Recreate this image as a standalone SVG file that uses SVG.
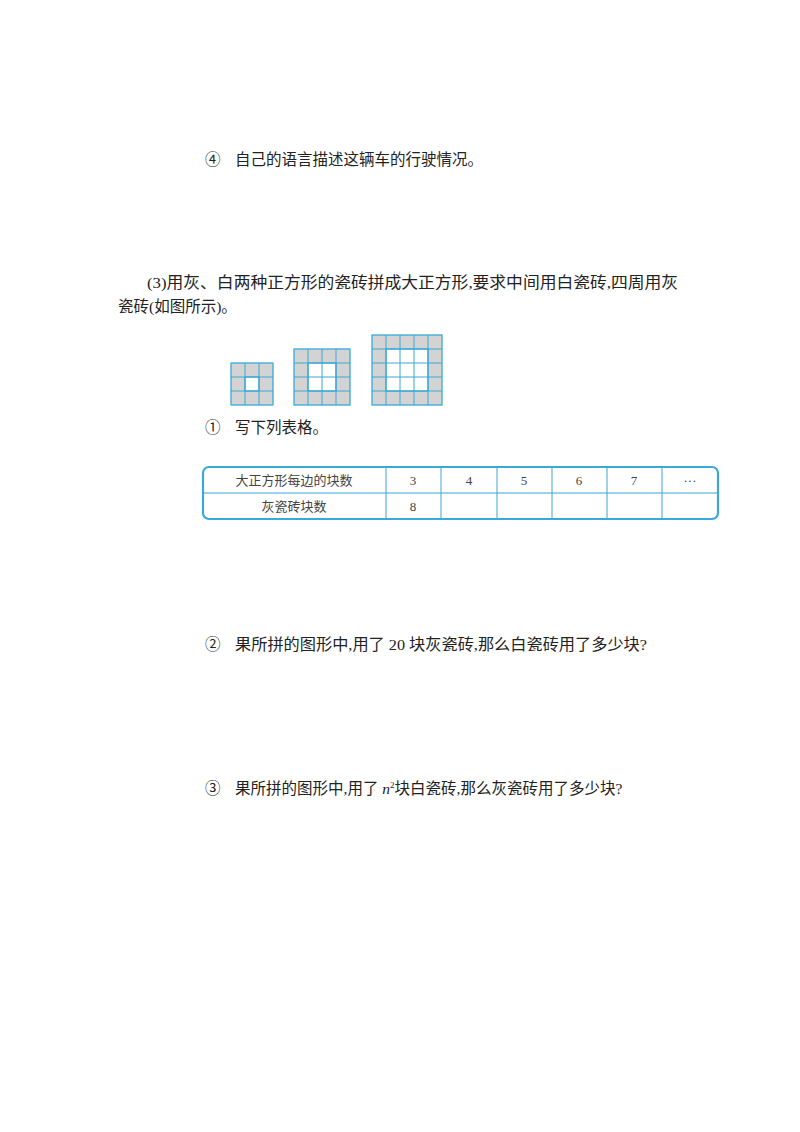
<svg xmlns="http://www.w3.org/2000/svg" width="800" height="1132" viewBox="0 0 800 1132">
<style>
text{font-family:"Liberation Serif","Noto Sans CJK SC",serif;fill:#222}
.t{font-size:15.5px}
.s{font-size:13px;fill:#444}
.g{fill:#d3d3d3;stroke:#3aa8d8;stroke-width:1.3}
.w{fill:#fff;stroke:#3aa8d8;stroke-width:1.3}
.l{stroke:#3aa8d8;stroke-width:1;fill:none}
</style>
<rect width="800" height="1132" fill="#fff"/>
<g id="texts">
<text class="t" x="205" y="165">④</text>
<text class="t" x="235" y="165">自己的语言描述这辆车的行驶情况。</text>
<text class="t" x="147" y="288" textLength="531" lengthAdjust="spacingAndGlyphs">(3)用灰、白两种正方形的瓷砖拼成大正方形,要求中间用白瓷砖,四周用灰</text>
<text class="t" x="118" y="312">瓷砖(如图所示)。</text>
<text class="t" x="205" y="433">①</text>
<text class="t" x="235" y="433">写下列表格。</text>
<text class="t" x="205" y="650">②</text>
<text class="t" x="235" y="650" textLength="412" lengthAdjust="spacingAndGlyphs">果所拼的图形中,用了 20 块灰瓷砖,那么白瓷砖用了多少块?</text>
<text class="t" x="205" y="794">③</text>
<text class="t" x="235" y="794">果所拼的图形中,用了 <tspan font-style="italic">n</tspan><tspan font-size="9" dy="-6">2</tspan><tspan dy="6">块白瓷砖,那么灰瓷砖用了多少块?</tspan></text>
</g>
<g id="fig1">
<rect class="g" x="231" y="363" width="42" height="42"/>
<rect class="w" x="245" y="377" width="14" height="14"/>
<path class="l" d="M245 363V405M259 363V405M231 377H273M231 391H273"/>
</g>
<g id="fig2">
<rect class="g" x="294" y="349" width="56" height="56"/>
<rect class="w" x="308" y="363" width="28" height="28"/>
<path class="l" d="M308 349V405M322 349V405M336 349V405M294 363H350M294 377H350M294 391H350"/>
</g>
<g id="fig3">
<rect class="g" x="372" y="335" width="70" height="70"/>
<rect class="w" x="386" y="349" width="42" height="42"/>
<path class="l" d="M386 335V405M400 335V405M414 335V405M428 335V405M372 349H442M372 363H442M372 377H442M372 391H442"/>
</g>
<g id="table">
<rect x="203" y="467" width="515" height="52" rx="6" fill="none" stroke="#3aa8d8" stroke-width="2.2"/>
<path class="l" d="M203 493H718M386 467V519M441 467V519M497 467V519M552 467V519M607 467V519M662 467V519"/>
<text class="s" x="294" y="485" text-anchor="middle">大正方形每边的块数</text>
<text class="s" x="294" y="511" text-anchor="middle">灰瓷砖块数</text>
<text class="s" x="413" y="485" text-anchor="middle">3</text>
<text class="s" x="469" y="485" text-anchor="middle">4</text>
<text class="s" x="524" y="485" text-anchor="middle">5</text>
<text class="s" x="579" y="485" text-anchor="middle">6</text>
<text class="s" x="634" y="485" text-anchor="middle">7</text>
<text class="s" x="690" y="485" text-anchor="middle">···</text>
<text class="s" x="413" y="511" text-anchor="middle">8</text>
</g>
</svg>
